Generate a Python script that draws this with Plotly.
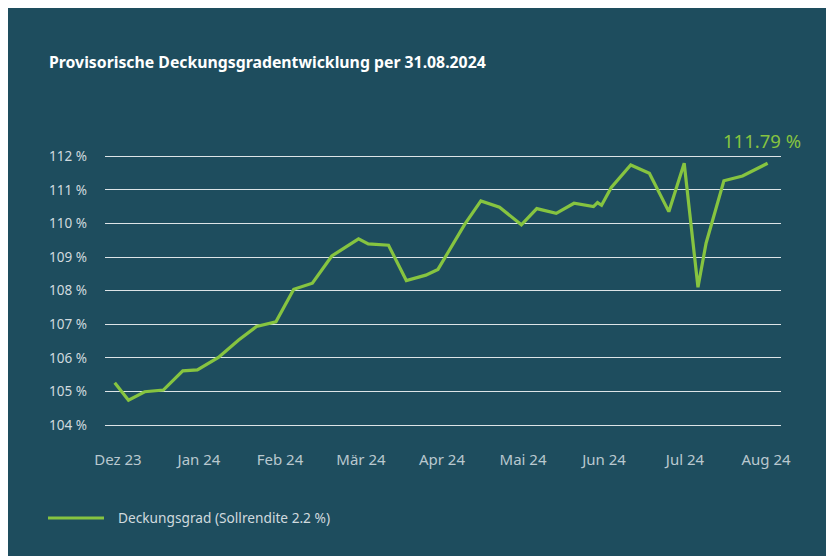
import plotly.graph_objects as go

# ---- data ----
month_labels = ["Dez 23", "Jan 24", "Feb 24", "Mär 24", "Apr 24", "Mai 24", "Jun 24", "Jul 24", "Aug 24"]
month_pos = list(range(len(month_labels)))

# position along the time axis in months (0 = Dez 23)
t_months = [-0.04, 0.13, 0.33, 0.56, 0.80, 0.98, 1.24, 1.49, 1.71, 1.95,
            2.17, 2.40, 2.64, 2.97, 3.09, 3.34, 3.56, 3.80, 3.95, 4.28,
            4.48, 4.71, 4.98, 5.17, 5.41, 5.63, 5.87, 5.92, 5.97, 6.09,
            6.33, 6.56, 6.80, 6.99, 7.16, 7.26, 7.48, 7.71, 8.02]
deckungsgrad = [105.26, 104.74, 104.99, 105.04, 105.61, 105.64, 106.01, 106.53, 106.93, 107.07,
                108.04, 108.22, 109.03, 109.54, 109.39, 109.35, 108.30, 108.46, 108.63, 109.97,
                110.67, 110.48, 109.96, 110.44, 110.30, 110.60, 110.50, 110.62, 110.54, 111.07,
                111.74, 111.49, 110.35, 111.79, 108.10, 109.41, 111.27, 111.41, 111.79]

y_ticks = [104, 105, 106, 107, 108, 109, 110, 111, 112]
y_tick_text = [f"{v} %" for v in y_ticks]

series_name = "Deckungsgrad (Sollrendite 2.2 %)"
title_text = "Provisorische Deckungsgradentwicklung per 31.08.2024"

# ---- style ----
BG = "#1e4d5e"
GREEN = "#86c440"
FONT = "Noto Sans"

W, H = 834, 556
L, R, T, B = 97, 61, 122, 124
pw, ph = W - L - R, H - T - B

def px_x(px):
    return (px - L) / pw

def px_y(py):
    return (H - B - py) / ph

fig = go.Figure()
fig.add_trace(go.Scatter(
    x=t_months, y=deckungsgrad, mode="lines", name=series_name,
    line=dict(color=GREEN, width=3.2), showlegend=False, hoverinfo="skip"))

fig.update_layout(
    width=W, height=H,
    margin=dict(l=L, r=R, t=T, b=B, pad=0),
    paper_bgcolor=BG, plot_bgcolor=BG,
    font=dict(family=FONT, color="#d0dade"),
    title=dict(text=f"<b>{title_text}</b>", x=41 / W, xanchor="left", xref="container",
               y=1 - 54 / H, yanchor="middle", yref="container",
               font=dict(family=FONT, size=15.8, color="white")),
    xaxis=dict(range=[-0.16, 8.185], tickmode="array", tickvals=month_pos, ticktext=month_labels,
               showgrid=False, zeroline=False, showline=False, ticks="",
               tickfont=dict(size=15, color="#b9c8cf"), ticklabelstandoff=9),
    yaxis=dict(range=[103.554, 112.78], tickmode="array", tickvals=y_ticks, ticktext=y_tick_text,
               showgrid=True, gridcolor="#dde4e7", gridwidth=1.2, zeroline=False, showline=False,
               ticks="", tickfont=dict(size=13.5, color="#d0dade"), ticklabelstandoff=17),
    shapes=[
        dict(type="line", xref="paper", yref="paper",
             x0=px_x(40), x1=px_x(96), y0=px_y(510), y1=px_y(510),
             line=dict(color=GREEN, width=3.2)),
    ],
    annotations=[
        dict(x=t_months[-1], y=deckungsgrad[-1], xref="x", yref="y",
             text=f"{deckungsgrad[-1]:.2f} %", showarrow=False,
             xshift=-6, yshift=23, font=dict(family=FONT, size=18.5, color=GREEN)),
        dict(x=px_x(108), y=px_y(510), xref="paper", yref="paper", xanchor="left", yanchor="middle",
             text=series_name, showarrow=False,
             font=dict(family=FONT, size=13.7, color="#d0dade")),
    ],
)

fig.write_html("out.html")
